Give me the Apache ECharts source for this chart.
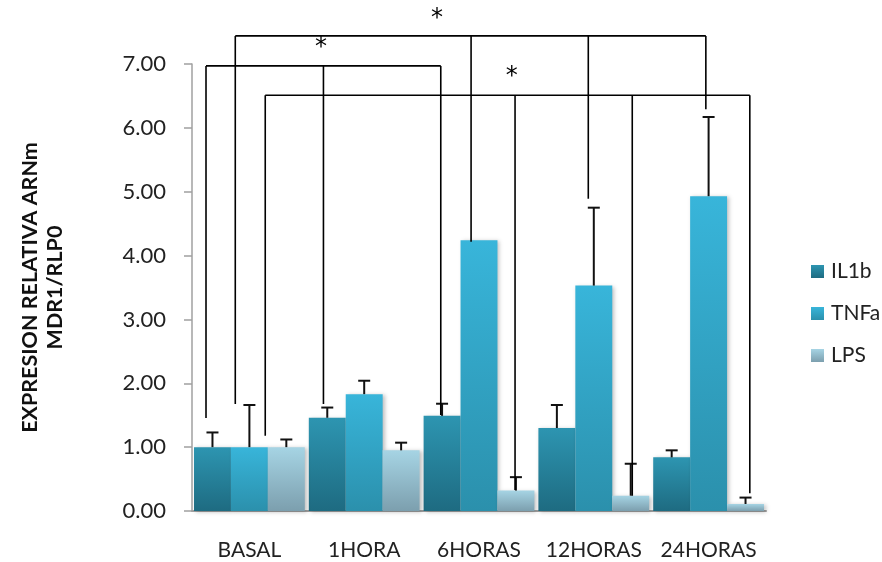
<!DOCTYPE html>
<html><head><meta charset="utf-8">
<script src="https://cdn.jsdelivr.net/npm/echarts@6/dist/echarts.min.js"></script>
<style>html,body{margin:0;padding:0;background:#fff}#c{width:882px;height:562px}</style>
</head><body><div id="c"></div>
<script>
const categories = ['BASAL', '1HORA', '6HORAS', '12HORAS', '24HORAS'];
const seriesNames = ['IL1b', 'TNFa', 'LPS'];
const il1b = [1.00, 1.46, 1.49, 1.30, 0.84];
const tnfa = [1.00, 1.83, 4.24, 3.53, 4.93];
const lps = [1.00, 0.95, 0.32, 0.24, 0.11];
const il1bErr = [0.23, 0.16, 0.19, 0.36, 0.11];
const tnfaErr = [0.66, 0.21, 0, 1.22, 1.24];
const lpsErr = [0.12, 0.12, 0.21, 0.50, 0.10];
const yTicks = [0, 1, 2, 3, 4, 5, 6, 7];
// significance brackets: x in category units (0..5), y in axis values
const bracketTops = [6.97, 7.44, 6.51];
const bracketLegsA = [[0.122, 1.456], [1.145, 1.676], [2.167, 1.503]];
const bracketLegsB = [[0.377, 1.676], [2.431, 4.217], [3.452, 4.89], [4.476, 6.29]];
const bracketLegsC = [[0.638, 1.18], [2.814, 0.33], [3.835, 0.24], [4.859, 0.277]];
const starPos = [[1.123, 7.255], [2.135, 7.715], [2.785, 6.80]];

const values = [il1b, tnfa, lps];
const errs = [il1bErr, tnfaErr, lpsErr];
const bracketLegs = [bracketLegsA, bracketLegsB, bracketLegsC];
const colors = [
  ['#2d95b1', '#1e6b81'],
  ['#38b5da', '#2b90ac'],
  ['#a6d4e4', '#7c9fae']
];
const FONT = 'Lato';
const catGap = 0.035;

function grad(c) {
  return new echarts.graphic.LinearGradient(0, 0, 0, 1, [{offset: 0, color: c[0]}, {offset: 1, color: c[1]}]);
}

const chart = echarts.init(document.getElementById('c'), null, {renderer: 'canvas'});
const series = [];
seriesNames.forEach((name, s) => {
  series.push({
    name: name, type: 'bar', data: values[s], barGap: '0%', barCategoryGap: (catGap * 100) + '%',
    itemStyle: {color: grad(colors[s]), shadowBlur: 4, shadowColor: 'rgba(0,0,0,0.25)', shadowOffsetX: 2, shadowOffsetY: 1},
    emphasis: {disabled: true}, z: 2
  });
});
seriesNames.forEach((name, s) => {
  series.push({
    type: 'custom', name: name + '_err', xAxisIndex: 0, yAxisIndex: 0, z: 5, silent: true,
    data: categories.map((c, i) => [i, values[s][i], values[s][i] + errs[s][i]]),
    encode: {x: 0, y: [1, 2]},
    renderItem: function (params, api) {
      const i = api.value(0);
      if (errs[s][i] <= 0) return null;
      const band = api.size([1, 0])[0];
      const bw = band * (1 - catGap) / 3;
      const off = (s - 1) * bw;
      const p0 = api.coord([i, api.value(1)]);
      const p1 = api.coord([i, api.value(2)]);
      const x = p0[0] + off;
      const st = {stroke: '#111', lineWidth: 2};
      return {type: 'group', children: [
        {type: 'line', shape: {x1: x, y1: p0[1], x2: x, y2: p1[1]}, style: st},
        {type: 'line', shape: {x1: x - 6, y1: p1[1], x2: x + 6, y2: p1[1]}, style: st}
      ]};
    }
  });
});
series.push({
  type: 'custom', name: 'brackets', xAxisIndex: 1, yAxisIndex: 0, z: 6, silent: true, clip: false,
  data: bracketTops.map((t, k) => [k, t]),
  encode: {x: 0, y: 1},
  renderItem: function (params, api) {
    const k = params.dataIndex;
    const legs = bracketLegs[k];
    const top = bracketTops[k];
    const st = {stroke: '#000', lineWidth: 1.6};
    const children = [];
    const a = api.coord([legs[0][0], top]);
    const b = api.coord([legs[legs.length - 1][0], top]);
    children.push({type: 'line', shape: {x1: a[0], y1: a[1], x2: b[0], y2: b[1]}, style: st});
    legs.forEach(l => {
      const p = api.coord([l[0], top]);
      const q = api.coord([l[0], l[1]]);
      children.push({type: 'line', shape: {x1: p[0], y1: p[1], x2: q[0], y2: q[1]}, style: st});
    });
    const sp = api.coord(starPos[k]);
    children.push({type: 'text', x: sp[0], y: sp[1], style: {text: '*', fontSize: 24, fontFamily: 'DejaVu Sans', fill: '#000', align: 'center', verticalAlign: 'middle'}});
    return {type: 'group', children: children};
  }
});

chart.setOption({
  animation: false,
  grid: {left: 192, right: 116, top: 64, bottom: 51, containLabel: false},
  legend: {
    orient: 'vertical', left: 806, top: 256, itemWidth: 13, itemHeight: 13, itemGap: 21,
    icon: 'rect', data: seriesNames,
    textStyle: {fontFamily: FONT, fontSize: 21, color: '#222', padding: [0, 0, 0, 2]}
  },
  xAxis: [{
    type: 'category', data: categories,
    axisLine: {lineStyle: {color: '#a0a0a0', width: 2}},
    axisTick: {show: false},
    axisLabel: {fontFamily: FONT, fontSize: 21, color: '#222', margin: 29, interval: 0}
  }, {
    type: 'value', min: 0, max: 5, show: false
  }],
  yAxis: {
    type: 'value', min: yTicks[0], max: yTicks[yTicks.length - 1], interval: 1,
    axisLine: {show: true, lineStyle: {color: '#a0a0a0', width: 1.5}},
    axisTick: {show: true, inside: false, length: 8, lineStyle: {color: '#a0a0a0', width: 1.5}},
    splitLine: {show: false},
    axisLabel: {fontFamily: FONT, fontSize: 22, color: '#222', margin: 26, formatter: v => v.toFixed(2)},
    name: 'EXPRESION RELATIVA ARNm\nMDR1/RLP0', nameLocation: 'middle', nameRotate: 90, nameGap: 124,
    nameTextStyle: {fontFamily: FONT, fontWeight: 'bold', fontSize: 21.5, color: '#111', lineHeight: 25, align: 'center'}
  },
  series: series
});
</script></body></html>
